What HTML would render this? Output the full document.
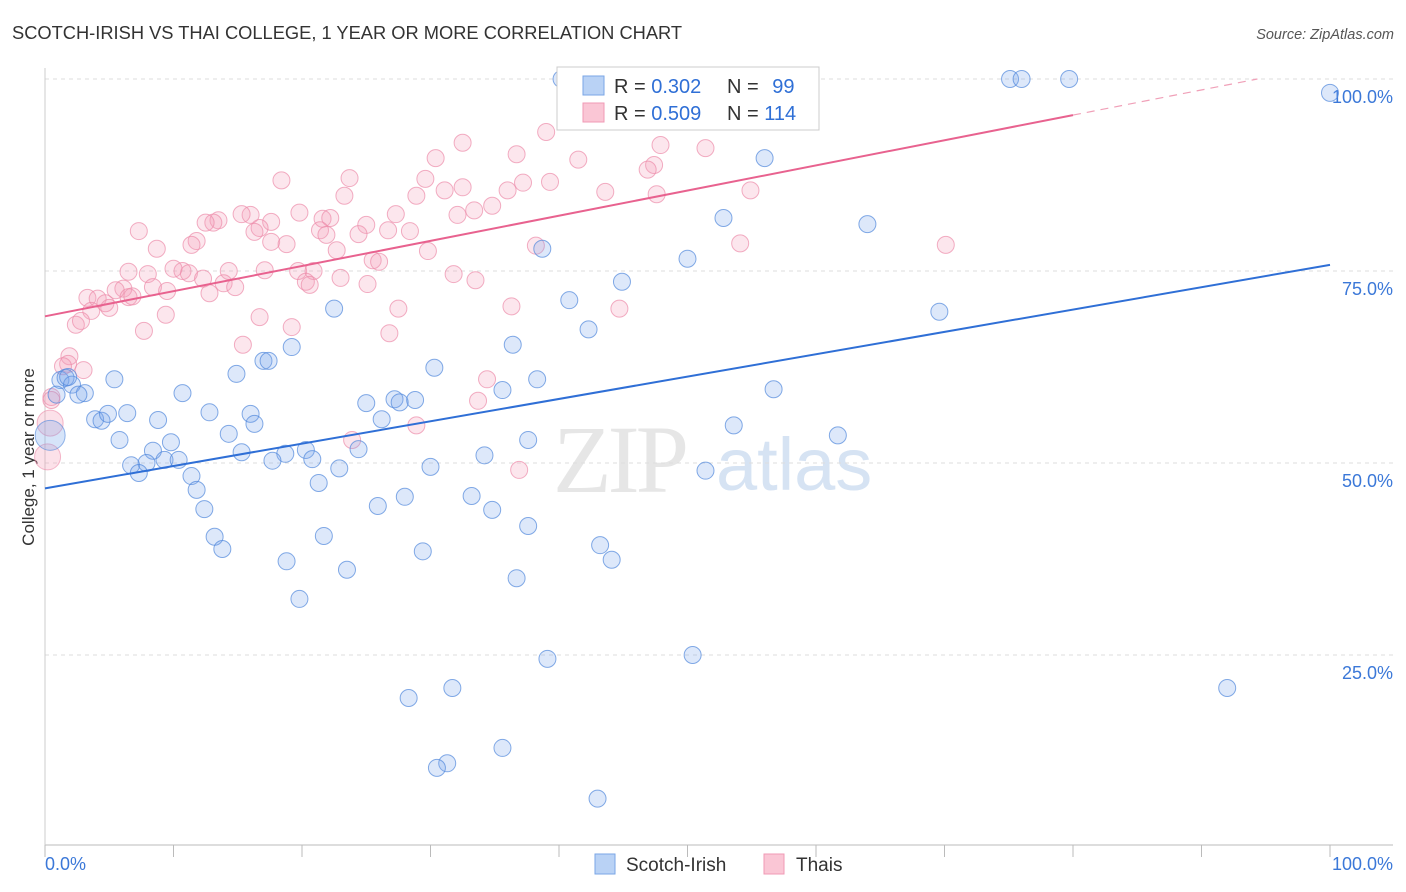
<!DOCTYPE html>
<html><head><meta charset="utf-8">
<style>
body{margin:0;background:#fff;font-family:"Liberation Sans",sans-serif;}
svg{display:block}
</style></head>
<body>
<svg id="chart" width="1406" height="892" viewBox="0 0 1406 892">
<text x="12" y="39" font-size="18.3" fill="#333">SCOTCH-IRISH VS THAI COLLEGE, 1 YEAR OR MORE CORRELATION CHART</text>
<text x="1394" y="39" font-size="14.5" fill="#555" font-style="italic" text-anchor="end">Source: ZipAtlas.com</text>
<text transform="translate(34,457) rotate(-90)" font-size="17" fill="#333" text-anchor="middle">College, 1 year or more</text>
<g id="watermark">
<text x="553" y="492" font-family="Liberation Serif,serif" font-size="96" fill="#e6e6e6" letter-spacing="-4">ZIP</text>
<text x="716" y="490" font-size="74" fill="#d6e3f3">atlas</text>
</g>
<g id="grid"></g>
<g id="axes"></g>
<g id="points"></g>
<g id="lines"></g>
<g id="legend">
<rect x="557" y="67" width="262" height="63" fill="#fff" stroke="#ccc" stroke-width="1"/>
<rect x="583" y="76" width="21" height="19" fill="#b9d2f5" stroke="#7aa6e6"/>
<rect x="583" y="103" width="21" height="19" fill="#fac6d5" stroke="#f09ab5"/>
<text x="614" y="93" font-size="20" fill="#333">R = <tspan fill="#2f6fd6">0.302</tspan></text>
<text x="727" y="93" font-size="20" fill="#333">N = <tspan fill="#2f6fd6" dx="8">99</tspan></text>
<text x="614" y="120" font-size="20" fill="#333">R = <tspan fill="#2f6fd6">0.509</tspan></text>
<text x="727" y="120" font-size="20" fill="#333">N = <tspan fill="#2f6fd6">114</tspan></text>
</g>
<g id="bottom-legend">
<rect x="595" y="854" width="20" height="20" fill="#b9d2f5" stroke="#7aa6e6"/>
<text x="626" y="871" font-size="19" fill="#333">Scotch-Irish</text>
<rect x="764" y="854" width="20" height="20" fill="#fac6d5" stroke="#f09ab5"/>
<text x="796" y="871" font-size="19" fill="#333">Thais</text>
</g>
</svg>
<script>
const yTicks=[25,50,75,100];
const yTickLabels=["25.0%","50.0%","75.0%","100.0%"];
const xLabels=["0.0%","100.0%"];
const blueX=[40.2,48.8,75.1,76.0,79.7,100,56.0,52.8,64.0,38.7,50.0,44.9,40.8,69.6,22.5,42.3,36.4,19.2,17.0,17.4,14.9,5.4,30.3,38.3,10.7,35.6,56.7,25.0,27.2,28.8,27.6,12.8,6.4,8.8,3.9,4.4,4.9,16.0,16.3,26.2,53.6,61.7,14.3,5.8,37.6,9.8,8.4,15.3,20.3,24.4,18.7,20.8,34.2,6.7,7.9,9.3,10.4,17.7,22.9,30.0,51.4,7.3,11.4,21.3,11.8,33.2,28.0,25.9,34.8,12.4,37.6,13.2,21.7,13.8,43.2,29.4,44.1,18.8,23.5,36.7,19.8,39.1,50.4,92.0,31.7,28.3,35.6,31.3,30.5,43.0,1.2,1.6,0.9,2.1,3.1,2.6,1.8];
const blueY=[100,100,100,100,100,98.2,89.7,81.9,81.1,77.9,76.6,73.6,71.2,69.7,70.1,67.4,65.4,65.1,63.3,63.3,61.6,60.9,62.4,60.9,59.1,59.5,59.6,57.8,58.3,58.2,57.9,56.6,56.5,55.6,55.7,55.5,56.4,56.4,55.1,55.7,54.9,53.6,53.8,53.0,53.0,52.7,51.6,51.4,51.7,51.8,51.2,50.5,51.0,49.7,50.0,50.4,50.4,50.3,49.3,49.5,49.0,48.7,48.3,47.4,46.5,45.7,45.6,44.4,43.9,44.0,41.8,40.4,40.5,38.8,39.3,38.5,37.4,37.2,36.1,35.0,32.3,24.5,25.0,20.7,20.7,19.4,12.9,10.9,10.3,6.3,60.8,61.1,58.9,60.2,59.1,58.9,61.2];
const blueBigX=[0.4];
const blueBigY=[53.6];
const pinkX=[32.5,39.0,36.7,30.4,41.5,47.9,51.4,47.4,46.9,23.7,18.4,29.6,32.5,31.1,37.2,39.3,36.0,43.6,47.6,54.9,28.9,23.3,33.4,34.8,32.1,27.3,19.8,25.0,21.6,22.2,17.6,16.0,15.3,13.5,13.1,12.5,16.7,16.3,21.4,21.9,24.4,26.7,28.4,7.3,11.8,11.4,8.7,17.6,18.8,38.2,54.1,70.1,22.7,29.8,25.5,26.0,17.1,19.7,20.9,14.3,10.7,11.2,10.0,8.0,6.5,12.3,13.9,14.8,23.0,25.1,31.8,33.5,20.3,20.6,8.4,9.5,6.1,5.5,6.5,3.3,4.1,4.7,5.0,3.6,6.8,12.8,27.5,36.3,44.7,9.4,16.7,2.4,2.8,19.2,26.8,7.7,15.4,1.9,1.8,3.0,34.4,33.7,28.9,23.9,36.9,1.4,0.5,0.5];
const pinkY=[91.7,93.1,90.2,89.7,89.5,91.4,91.0,88.8,88.2,87.1,86.8,87.0,85.9,85.5,86.5,86.6,85.5,85.3,85.0,85.5,84.8,84.8,82.9,83.5,82.3,82.4,82.6,81.0,81.8,81.9,81.4,82.3,82.4,81.6,81.3,81.3,80.6,80.1,80.3,79.7,79.8,80.3,80.2,80.2,78.9,78.4,77.9,78.8,78.5,78.3,78.6,78.4,77.7,77.6,76.4,76.2,75.1,75.0,75.0,75.0,75.0,74.7,75.3,74.6,74.9,74.0,73.4,72.9,74.1,73.3,74.6,73.8,73.6,73.2,72.9,72.4,72.7,72.5,71.6,71.5,71.4,70.8,70.2,69.8,71.7,72.1,70.1,70.4,70.1,69.3,69.0,68.0,68.5,67.7,66.9,67.2,65.4,63.9,62.9,62.1,60.9,58.1,54.9,53.0,49.1,62.6,58.6,58.2];
const pinkBigX=[0.2,0.4];
const pinkBigY=[50.8,55.2];
const blueLine=[46.7,75.8];
const pinkLine=[69.1,95.3];
const pinkLineEndX=80;

const X0=45,X1=1330,Y0=847,Y100=79;
const sx=v=>X0+(X1-X0)*v/100;
const sy=v=>Y0-(Y0-Y100)*v/100;
const NS="http://www.w3.org/2000/svg";
function mk(tag,attrs,parent){const e=document.createElementNS(NS,tag);for(const k in attrs)e.setAttribute(k,attrs[k]);document.getElementById(parent).appendChild(e);return e;}

yTicks.forEach((t,i)=>{
  const g=mk('line',{x1:45,x2:1393,y1:sy(t),y2:sy(t),stroke:'#dddddd','stroke-dasharray':'4,4'},'grid');
  
  
  const l=mk('text',{x:1393,y:sy(t)+24,'font-size':18,fill:'#3b78d8','text-anchor':'end'},'axes');
  l.textContent=yTickLabels[i];
  
  
});
const ax=mk('line',{x1:45,x2:1393,y1:845,y2:845,stroke:'#bbb'},'axes');


const ay=mk('line',{x1:45,x2:45,y1:68,y2:845,stroke:'#ccc'},'axes');


for(let i=0;i<=10;i++){
  const t=mk('line',{x1:sx(i*10),x2:sx(i*10),y1:845,y2:857,stroke:'#bbb'},'axes');
  
  
}
const xl0=mk('text',{x:45,y:870,'font-size':18,fill:'#3b78d8'},'axes');
xl0.textContent=xLabels[0];


const xl1=mk('text',{x:1393,y:870,'font-size':18,fill:'#3b78d8','text-anchor':'end'},'axes');
xl1.textContent=xLabels[1];



function dots(xs,ys,r,fill,stroke,name){
  xs.forEach((v,i)=>{
    const c=mk('circle',{cx:sx(v),cy:sy(ys[i]),r:r,fill:fill,stroke:stroke,'stroke-width':1},'points');
    
    
  });
}
dots(pinkX,pinkY,8.5,'rgba(244,154,182,0.25)','rgba(236,140,170,0.7)','thais-point');
dots(blueX,blueY,8.5,'rgba(120,165,235,0.25)','rgba(80,135,220,0.7)','scotch-irish-point');
dots(pinkBigX,pinkBigY,13,'rgba(244,154,182,0.3)','rgba(236,140,170,0.6)','thais-point-large');
dots(blueBigX,blueBigY,15,'rgba(120,165,235,0.3)','rgba(80,135,220,0.6)','scotch-irish-point-large');

const bl=mk('line',{x1:sx(0),y1:sy(blueLine[0]),x2:sx(100),y2:sy(blueLine[1]),stroke:'#2f6fd6','stroke-width':2},'lines');


const slope=(pinkLine[1]-pinkLine[0])/pinkLineEndX;
const pl=mk('line',{x1:sx(0),y1:sy(pinkLine[0]),x2:sx(pinkLineEndX),y2:sy(pinkLine[1]),stroke:'#e8628f','stroke-width':2},'lines');


const xEnd=(100-pinkLine[0])/slope;
const pd=mk('line',{x1:sx(pinkLineEndX),y1:sy(pinkLine[1]),x2:sx(xEnd),y2:sy(100),stroke:'#f0a0b8','stroke-width':1.2,'stroke-dasharray':'8,6'},'lines');


</script>
</body></html>
